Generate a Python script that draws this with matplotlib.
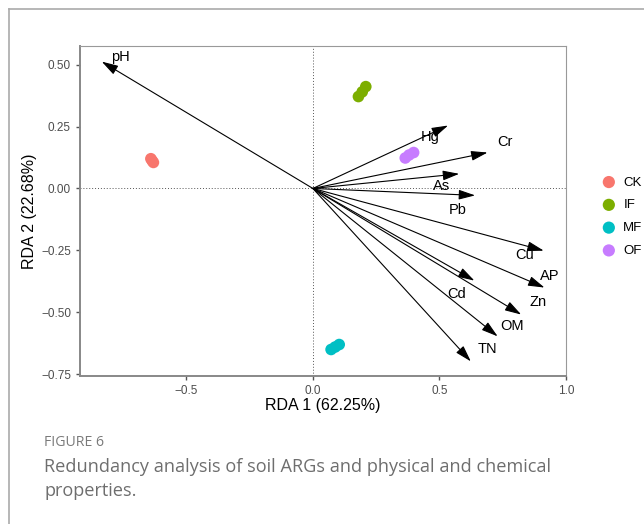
import matplotlib
matplotlib.use("Agg")
import matplotlib.pyplot as plt
from matplotlib.lines import Line2D
from matplotlib.ticker import FuncFormatter

plt.rcParams["font.family"] = ["Liberation Sans", "DejaVu Sans"]

# ================================
# data
# ================================
env_names = ["pH", "Hg", "Cr", "As", "Pb", "Cu", "AP", "Cd", "Zn", "OM", "TN"]
env_x = [-0.834, 0.534, 0.690, 0.578, 0.641, 0.912, 0.915, 0.638, 0.823, 0.730, 0.624]
env_y = [0.512, 0.254, 0.145, 0.059, -0.028, -0.251, -0.400, -0.372, -0.509, -0.597, -0.698]
# label positions next to arrow tips
lab_x = [-0.76, 0.464, 0.76, 0.507, 0.574, 0.835, 0.935, 0.567, 0.89, 0.787, 0.689]
lab_y = [0.53, 0.208, 0.188, 0.011, -0.086, -0.27, -0.352, -0.425, -0.457, -0.554, -0.650]

groups = ["CK", "IF", "MF", "OF"]
colors = ["#F8766D", "#7CAE00", "#00BFC4", "#C77CFF"]
site_x = {
    "CK": [-0.640, -0.635, -0.630],
    "IF": [0.180, 0.195, 0.209],
    "MF": [0.072, 0.088, 0.104],
    "OF": [0.365, 0.380, 0.398],
}
site_y = {
    "CK": [0.120, 0.112, 0.105],
    "IF": [0.371, 0.390, 0.411],
    "MF": [-0.650, -0.640, -0.630],
    "OF": [0.123, 0.135, 0.145],
}


def minus_fmt(fmt):
    return FuncFormatter(lambda v, p: (fmt % v).replace("-", "\u2212"))


# ================================
# figure
# ================================
fig = plt.figure(figsize=(6.44, 5.24), dpi=100)
ax = fig.add_axes([80 / 644, 1 - 376 / 524, 486 / 644, 330 / 524])

ax.axhline(0, color="#555555", lw=0.7, ls=(0, (1, 2)), zorder=1)
ax.axvline(0, color="#555555", lw=0.7, ls=(0, (1, 2)), zorder=1)

for g, c in zip(groups, colors):
    ax.scatter(site_x[g], site_y[g], s=70, color=c, edgecolors="none", zorder=3, label=g)

for name, x, y, lx, ly in zip(env_names, env_x, env_y, lab_x, lab_y):
    ax.annotate("", xy=(x, y), xytext=(0, 0),
                arrowprops=dict(arrowstyle="-|>,head_length=1.0,head_width=0.3",
                                color="black", lw=0.8, shrinkA=0, shrinkB=0),
                zorder=4)
    ax.text(lx, ly, name, fontsize=10.5, ha="center", va="center", color="black", zorder=5)

ax.set_xlim(-0.92, 1.0)
ax.set_ylim(-0.757, 0.575)
ax.set_xticks([-0.5, 0.0, 0.5, 1.0])
ax.set_yticks([0.5, 0.25, 0.0, -0.25, -0.5, -0.75])
ax.xaxis.set_major_formatter(minus_fmt("%.1f"))
ax.yaxis.set_major_formatter(minus_fmt("%.2f"))
ax.tick_params(colors="#555555", labelcolor="#4D4D4D", labelsize=8.5, length=3, width=1)

for side in ["top", "right"]:
    ax.spines[side].set_color("#999999")
    ax.spines[side].set_linewidth(0.8)
for side in ["left", "bottom"]:
    ax.spines[side].set_color("#888888")
    ax.spines[side].set_linewidth(1.4)

ax.set_xlabel("RDA 1 (62.25%)", fontsize=11.5, labelpad=1)
ax.set_ylabel("RDA 2 (22.68%)", fontsize=11.5, labelpad=3)

# legend outside right (cut off by the page edge like the source)
fig.legend(loc="upper left", bbox_to_anchor=(593 / 644, 1 - 171 / 524),
           frameon=False, fontsize=9.5, handletextpad=0.3, labelspacing=0.8,
           markerscale=1.05, borderaxespad=0, handlelength=1.6)

# page frame
fig.add_artist(Line2D([9 / 644, 1.0], [1 - 9 / 524, 1 - 9 / 524],
                      transform=fig.transFigure, color="#AAAAAA", lw=1.2))
fig.add_artist(Line2D([9 / 644, 9 / 644], [0, 1 - 9 / 524],
                      transform=fig.transFigure, color="#AAAAAA", lw=1.2))

# caption
fig.text(44 / 644, 1 - 442 / 524, "FIGURE 6", fontsize=10.2, color="#7A7A7A",
         family="Open Sans", va="center")
fig.text(44 / 644, 1 - 467 / 524, "Redundancy analysis of soil ARGs and physical and chemical",
         fontsize=13.1, color="#6E6E6E", family="Open Sans", va="center")
fig.text(44 / 644, 1 - 491 / 524, "properties.", fontsize=13.1, color="#6E6E6E",
         family="Open Sans", va="center")

fig.savefig("out.png", dpi=100)
